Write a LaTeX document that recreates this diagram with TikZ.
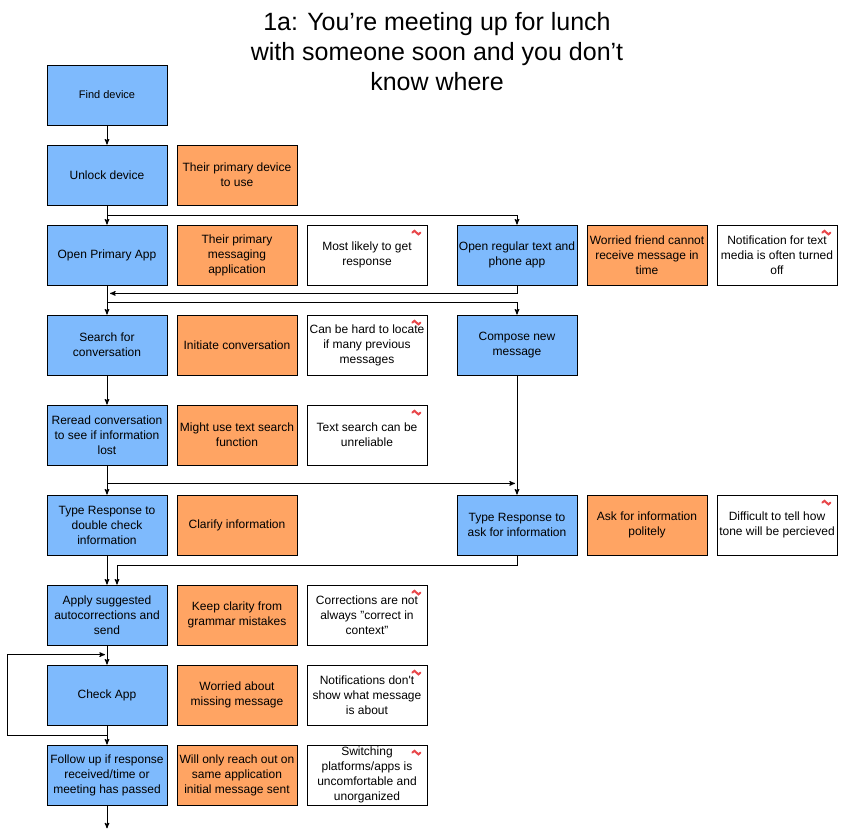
\documentclass[tikz,border=0pt]{standalone}
\usepackage{fontspec}
\setmainfont{Liberation Sans}
\usetikzlibrary{positioning, arrows}

\definecolor{stepblue}{HTML}{7EBAFD}
\definecolor{feelorange}{HTML}{FFA463}
\definecolor{markred}{HTML}{E8474A}

\newcommand{\redmark}[1]{\draw[redmark] ([xshift=-15pt,yshift=-8pt]#1.north east)
  sin ++(2pt,1.8pt) cos ++(2pt,-1.8pt) sin ++(2pt,-1.8pt) cos ++(2pt,1.8pt);}

\begin{document}
\begin{tikzpicture}
[->,>=stealth',line width=1pt,
                    node distance=130pt,on grid,
                    box/.style={draw,line width=0.8pt,minimum width=120pt,minimum height=60pt,
                      inner sep=0pt,align=center,font=\fontsize{12}{15}\selectfont},
                    stepbox/.style={box,fill=stepblue},
                    feelbox/.style={box,fill=feelorange},
                    painbox/.style={box,fill=white},
                    redmark/.style={-,draw=markred,line width=2pt,line cap=round}]

\useasboundingbox (0,0) rectangle (849pt,-835pt);

\node[font=\fontsize{25}{30}\selectfont, align=center] (title) at (437pt,-52pt)
  {1a: You’re meeting up for lunch\\with someone soon and you don’t\\know where};

% main column
\node[stepbox, font=\fontsize{11}{14}\selectfont] (find) at (107pt,-95pt) {Find device};
\node[stepbox, below=80pt of find] (unlock) {Unlock device};
\node[stepbox, below=80pt of unlock] (openapp) {Open Primary App};
\node[stepbox, below=90pt of openapp] (search) {Search for\\conversation};
\node[stepbox, below=90pt of search] (reread) {Reread conversation\\to see if information\\lost};
\node[stepbox, below=90pt of reread] (typecheck) {Type Response to\\double check\\information};
\node[stepbox, below=90pt of typecheck] (apply) {Apply suggested\\autocorrections and\\send};
\node[stepbox, below=80pt of apply] (checkapp) {Check App};
\node[stepbox, below=80pt of checkapp] (followup) {Follow up if response\\received/time or\\meeting has passed};

\node[feelbox, right of=unlock] (primdevice) {Their primary device\\to use};
\node[feelbox, right of=openapp] (primmsg) {Their primary\\messaging\\application};
\node[painbox, right of=primmsg] (likely) {Most likely to get\\response};
\node[feelbox, right of=search] (initiate) {Initiate conversation};
\node[painbox, right of=initiate] (hardlocate) {Can be hard to locate\\if many previous\\messages};
\node[feelbox, right of=reread] (textsearch) {Might use text search\\function};
\node[painbox, right of=textsearch] (unreliable) {Text search can be\\unreliable};
\node[feelbox, right of=typecheck] (clarify) {Clarify information};
\node[feelbox, right of=apply] (grammar) {Keep clarity from\\grammar mistakes};
\node[painbox, right of=grammar] (context) {Corrections are not\\always "correct in\\context"};
\node[feelbox, right of=checkapp] (missing) {Worried about\\missing message};
\node[painbox, right of=missing] (notifs) {Notifications don\textquotesingle t\\show what message\\is about};
\node[feelbox, right of=followup] (reachout) {Will only reach out on\\same application\\initial message sent};
\node[painbox, right of=reachout] (switching) {Switching\\platforms/apps is\\uncomfortable and\\unorganized};

% second column
\node[stepbox, right=410pt of openapp] (openreg) {Open regular text and\\phone app};
\node[feelbox, right of=openreg] (cannotget) {Worried friend cannot\\receive message in\\time};
\node[painbox, right of=cannotget] (turnedoff) {Notification for text\\media is often turned\\off};
\node[stepbox, right=410pt of search] (compose) {Compose new\\message};
\node[stepbox, right=410pt of typecheck] (typeask) {Type Response to\\ask for information};
\node[feelbox, right of=typeask] (politely) {Ask for information\\politely};
\node[painbox, right of=politely] (tone) {Difficult to tell how\\tone will be percieved};

\redmark{likely}
\redmark{turnedoff}
\redmark{hardlocate}
\redmark{unreliable}
\redmark{tone}
\redmark{context}
\redmark{notifs}
\redmark{switching}

\coordinate (joinA) at ([xshift=3pt,yshift=-8pt]openapp.south);
\coordinate (joinB) at ([yshift=-18pt]reread.south);
\coordinate (loopin) at ([yshift=10pt]checkapp.north);
\coordinate (done) at ([yshift=-23pt]followup.south);

\path
	(find) edge (unlock)
	(unlock) edge (openapp)
	(openapp) edge (search)
	(search) edge (reread)
	(reread) edge (typecheck)
	(typecheck) edge (apply)
	(apply) edge (checkapp)
	(checkapp) edge (followup)
	(compose) edge (typeask)
	(followup) edge (done);

\draw (unlock.south) -- ++(0,-10pt) -| (openreg);
\draw (openreg.south) |- (joinA);
\draw (openapp.south) -- ++(0,-17pt) -| (compose);
\draw[shorten >=2pt] (reread.south) |- (joinB -| typeask.north);
\draw (typeask.south) -- ++(0,-10pt) -| ([xshift=10pt]apply.north);
\draw (checkapp.south) -- ++(0,-10pt) -| ([xshift=-100pt]loopin) -- ([xshift=-2pt]loopin);
\end{tikzpicture}
\end{document}
